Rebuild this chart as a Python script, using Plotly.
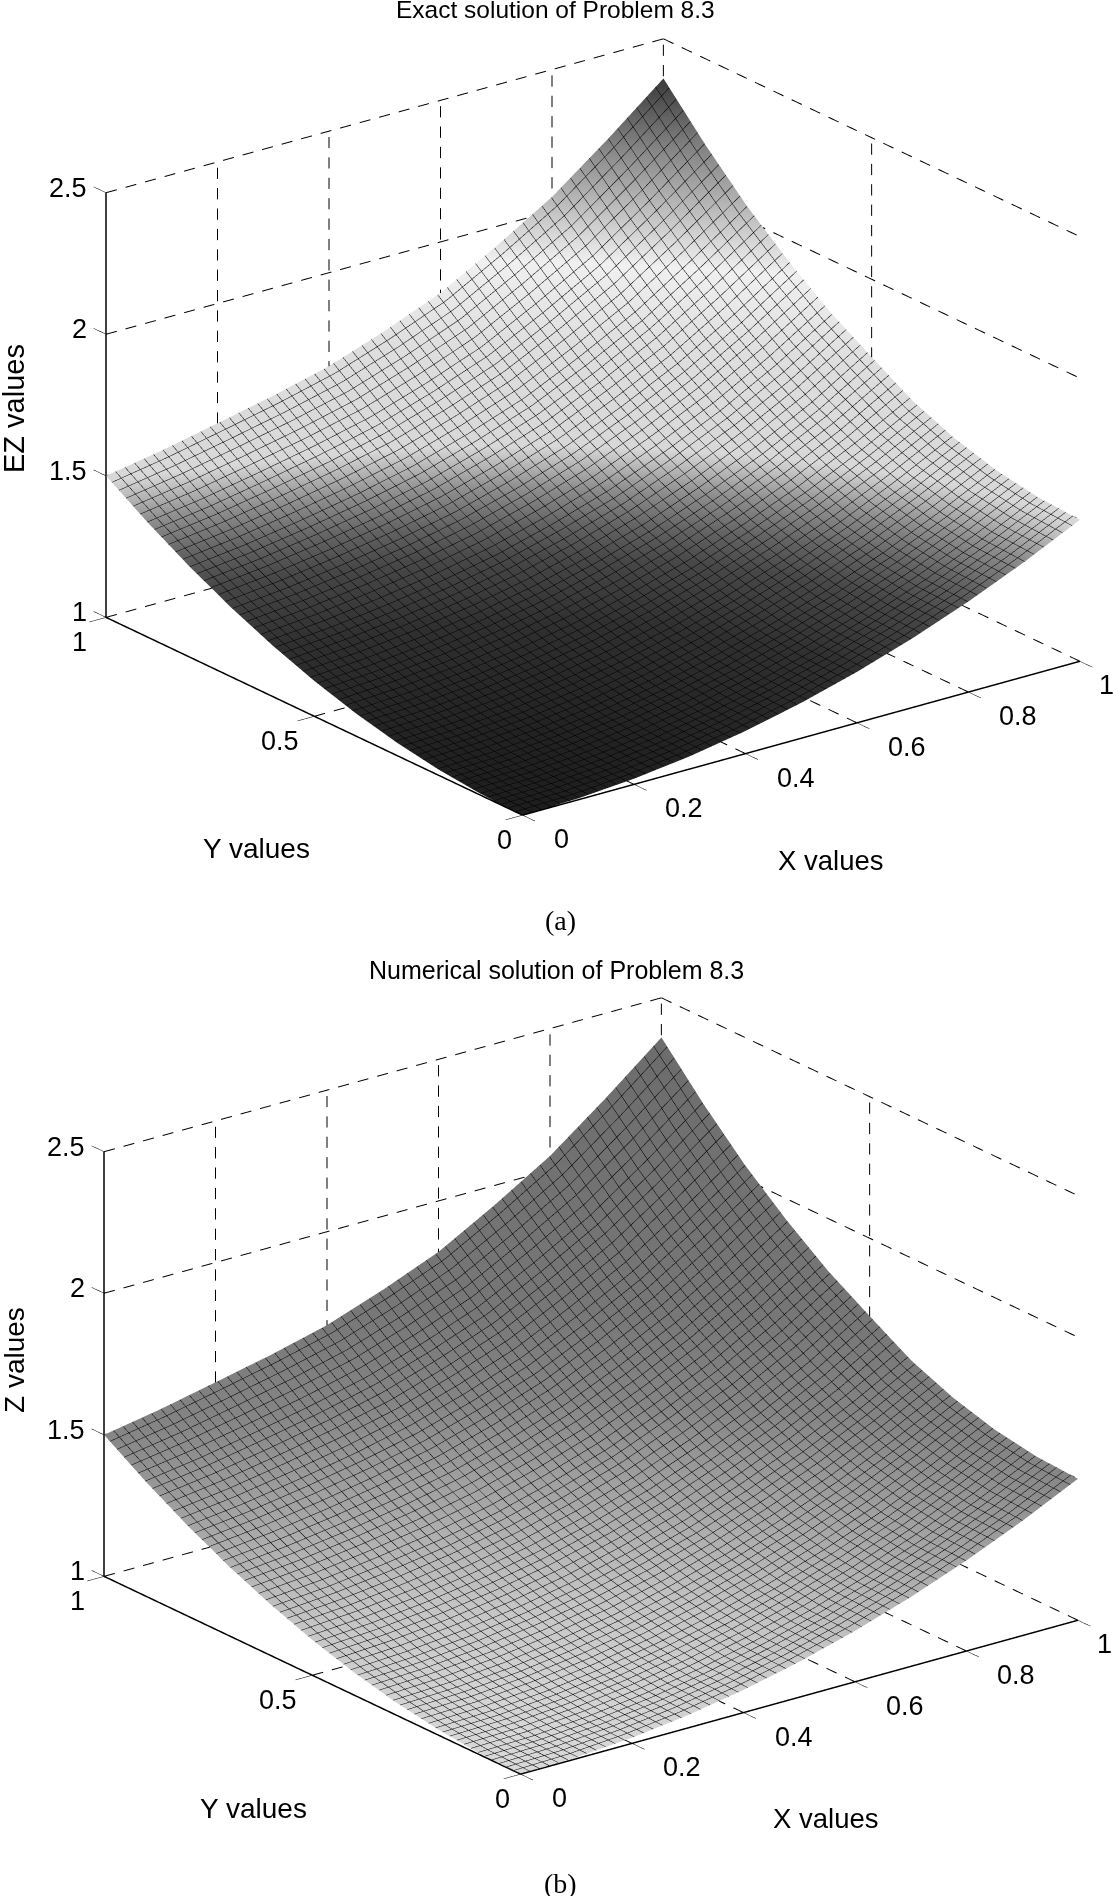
import plotly.graph_objects as go

W, H = 1113, 1896

x_grid = [0, 0.1, 0.2, 0.3, 0.4, 0.5, 0.6, 0.7, 0.8, 0.9, 1]
y_grid = [0, 0.1, 0.2, 0.3, 0.4, 0.5, 0.6, 0.7, 0.8, 0.9, 1]
z_values = [
    [1.000, 1.005, 1.020, 1.045, 1.080, 1.125, 1.180, 1.245, 1.320, 1.405, 1.500],
    [1.005, 1.010, 1.026, 1.051, 1.086, 1.131, 1.186, 1.252, 1.327, 1.413, 1.509],
    [1.020, 1.026, 1.042, 1.068, 1.104, 1.150, 1.206, 1.272, 1.349, 1.437, 1.534],
    [1.045, 1.053, 1.070, 1.097, 1.133, 1.180, 1.238, 1.307, 1.386, 1.477, 1.577],
    [1.080, 1.090, 1.109, 1.137, 1.174, 1.223, 1.282, 1.355, 1.437, 1.532, 1.638],
    [1.125, 1.138, 1.159, 1.189, 1.228, 1.279, 1.340, 1.416, 1.503, 1.604, 1.725],
    [1.180, 1.196, 1.221, 1.252, 1.292, 1.346, 1.410, 1.492, 1.583, 1.691, 1.815],
    [1.245, 1.265, 1.293, 1.327, 1.369, 1.426, 1.494, 1.581, 1.678, 1.795, 1.925],
    [1.320, 1.344, 1.376, 1.413, 1.458, 1.519, 1.590, 1.683, 1.787, 1.914, 2.050],
    [1.405, 1.434, 1.471, 1.511, 1.558, 1.623, 1.698, 1.800, 1.911, 2.049, 2.197],
    [1.500, 1.535, 1.577, 1.620, 1.670, 1.740, 1.820, 1.930, 2.050, 2.200, 2.360],
]
x_ticks = [0, 0.2, 0.4, 0.6, 0.8, 1]
y_ticks = [0, 0.5, 1]
z_ticks = [1, 1.5, 2, 2.5]
x_tick_text = ["0", "0.2", "0.4", "0.6", "0.8", "1"]
y_tick_text = ["0", "0.5", "1"]
z_tick_text = ["1", "1.5", "2", "2.5"]

shade_a = [[0.0, "#1e1e1e"], [0.128, "#303030"], [0.206, "#484848"], [0.25, "#646464"],
           [0.30, "#909090"], [0.36, "#d8d8d8"], [0.515, "#dedede"], [0.66, "#f0f0f0"],
           [0.77, "#b8b8b8"], [0.88, "#808080"], [1.0, "#3a3a3a"]]
shade_b = [[0.0, "#d8d8d8"], [0.11, "#c4c4c4"], [0.22, "#a8a8a8"], [0.37, "#858585"],
           [0.51, "#777777"], [1.0, "#6c6c6c"]]

TICK_FONT = dict(family="Liberation Sans", size=27, color="black")

# dash period along each data axis, in data units
PERIOD = dict(x=0.035, y=0.044, z=0.072)
PAD = 0.05   # scene box is a little larger than the drawn frame so nothing clips


def dashes(a, b):
    """Cut the wall line a-b into short solid dashes."""
    if a[0] != b[0]:
        period = PERIOD["x"]
        length = abs(b[0] - a[0])
    elif a[1] != b[1]:
        period = PERIOD["y"]
        length = abs(b[1] - a[1])
    else:
        period = PERIOD["z"]
        length = abs(b[2] - a[2])
    n = int(length / period)
    out = []
    for k in range(n + 1):
        t0 = k * period / length
        t1 = min(1.0, (k + 0.55) * period / length)
        if t0 >= 1:
            break
        out.append((tuple(a[i] + (b[i] - a[i]) * t0 for i in range(3)),
                    tuple(a[i] + (b[i] - a[i]) * t1 for i in range(3))))
    return out


def line3d(pairs, scene, width):
    xs, ys, zs = [], [], []
    for a, b in pairs:
        xs += [a[0], b[0], None]
        ys += [a[1], b[1], None]
        zs += [a[2], b[2], None]
    return go.Scatter3d(x=xs, y=ys, z=zs, mode="lines", scene=scene, showlegend=False,
                        hoverinfo="skip", line=dict(color="black", width=width))


def panel(scene, scale):
    zlo, zhi = z_ticks[0], z_ticks[-1]
    walls = []
    for v in x_ticks[1:]:
        walls.append(((v, 0, zlo), (v, 1, zlo)))
        walls.append(((v, 1, zlo), (v, 1, zhi)))
    for v in y_ticks[1:]:
        walls.append(((0, v, zlo), (1, v, zlo)))
        walls.append(((1, v, zlo), (1, v, zhi)))
    for v in z_ticks[1:]:
        walls.append(((0, 1, v), (1, 1, v)))
        walls.append(((1, 1, v), (1, 0, v)))
    dashed = [d for a, b in walls for d in dashes(a, b)]
    solid = [((0, 0, zlo), (1, 0, zlo)), ((0, 0, zlo), (0, 1, zlo)), ((0, 1, zlo), (0, 1, zhi))]
    ticks = [((v, 0, zlo), (v, -0.03, zlo)) for v in x_ticks]
    ticks += [((0, v, zlo), (-0.03, v, zlo)) for v in y_ticks]
    ticks += [((0, 1, v), (0, 1.03, v)) for v in z_ticks]
    return [
        go.Surface(x=x_grid, y=y_grid, z=z_values, scene=scene, colorscale=scale,
                   cmin=1.0, cmax=2.36, showscale=False, hoverinfo="skip",
                   lighting=dict(ambient=1, diffuse=0, specular=0, fresnel=0, roughness=1),
                   contours=dict(
                       x=dict(show=True, start=0, end=1, size=0.017, color="black", width=1, highlight=False),
                       y=dict(show=True, start=0, end=1, size=0.017, color="black", width=1, highlight=False),
                       z=dict(show=False, highlight=False))),
        line3d(dashed, scene, 2),
        line3d(solid, scene, 3),
        line3d(ticks, scene, 1),
    ]


def scene_annots():
    out = []
    for v, t in zip(x_ticks, x_tick_text):
        out.append(dict(x=v, y=0, z=1, text=t, showarrow=False, font=TICK_FONT,
                        xshift=(39 if v == 0 else 27 if v == 1 else 50), yshift=-24))
    for v, t in zip(y_ticks, y_tick_text):
        out.append(dict(x=0, y=v, z=1, text=t, showarrow=False, font=TICK_FONT,
                        xshift=(-18 if v == 0 else -34 if v == 0.5 else -27), yshift=-25))
    for v, t in zip(z_ticks, z_tick_text):
        out.append(dict(x=0, y=1, z=v, text=t, showarrow=False, font=TICK_FONT,
                        xanchor="right", xshift=-17, yshift=5))
    return out


def scene_layout(dom_x, dom_y):
    ax = dict(visible=False, showspikes=False)
    R = 1.55
    K = 1.6415 * (1 + 2 * PAD)
    zspan = z_ticks[-1] - z_ticks[0]
    return dict(
        domain=dict(x=dom_x, y=dom_y),
        xaxis=dict(range=[x_ticks[0] - PAD, x_ticks[-1] + PAD], **ax),
        yaxis=dict(range=[y_ticks[0] - PAD, y_ticks[-1] + PAD], **ax),
        zaxis=dict(range=[z_ticks[0] - PAD * zspan, z_ticks[-1] + PAD * zspan], **ax),
        aspectmode="manual",
        aspectratio=dict(x=1 * K, y=0.98 * K, z=0.65 * K),
        camera=dict(eye=dict(x=-0.565 * R, y=-0.741 * R, z=0.362 * R),
                    center=dict(x=0, y=0, z=0), up=dict(x=0, y=0, z=1),
                    projection=dict(type="orthographic")),
        bgcolor="white",
        annotations=scene_annots(),
    )


def px_dom(cx, cy, half_w=515, half_h=427):
    return [(cx - half_w) / W, (cx + half_w) / W], [1 - (cy + half_h) / H, 1 - (cy - half_h) / H]


fig = go.Figure()
for tr in panel("scene", shade_a) + panel("scene2", shade_b):
    fig.add_trace(tr)

dxa, dya = px_dom(593, 427)
dxb, dyb = px_dom(591, 1386)


def note(text, x, y, size, family="Liberation Sans", angle=0):
    return dict(text=text, x=x / W, y=1 - y / H, xref="paper", yref="paper", showarrow=False,
                xanchor="center", yanchor="middle", textangle=angle,
                font=dict(family=family, size=size, color="black"))


fig.update_layout(
    width=W, height=H, margin=dict(l=0, r=0, t=0, b=0), paper_bgcolor="white",
    showlegend=False,
    scene=scene_layout(dxa, dya),
    scene2=scene_layout(dxb, dyb),
    annotations=[
        note("Exact solution of Problem 8.3", 555, 10, 24.5),
        note("EZ values", 14, 409, 29, angle=-90),
        note("Y values", 256, 849, 28),
        note("X values", 830, 860, 27.5),
        note("(a)", 560, 920, 28, "Liberation Serif"),
        note("Numerical solution of Problem 8.3", 556, 970, 25),
        note("Z values", 14, 1360, 28, angle=-90),
        note("Y values", 253, 1808, 28),
        note("X values", 826, 1818, 27.5),
        note("(b)", 560, 1883, 28, "Liberation Serif"),
    ],
)

fig.write_html("out.html", config=dict(displayModeBar=False),
               post_script="document.body.style.margin='0';")
